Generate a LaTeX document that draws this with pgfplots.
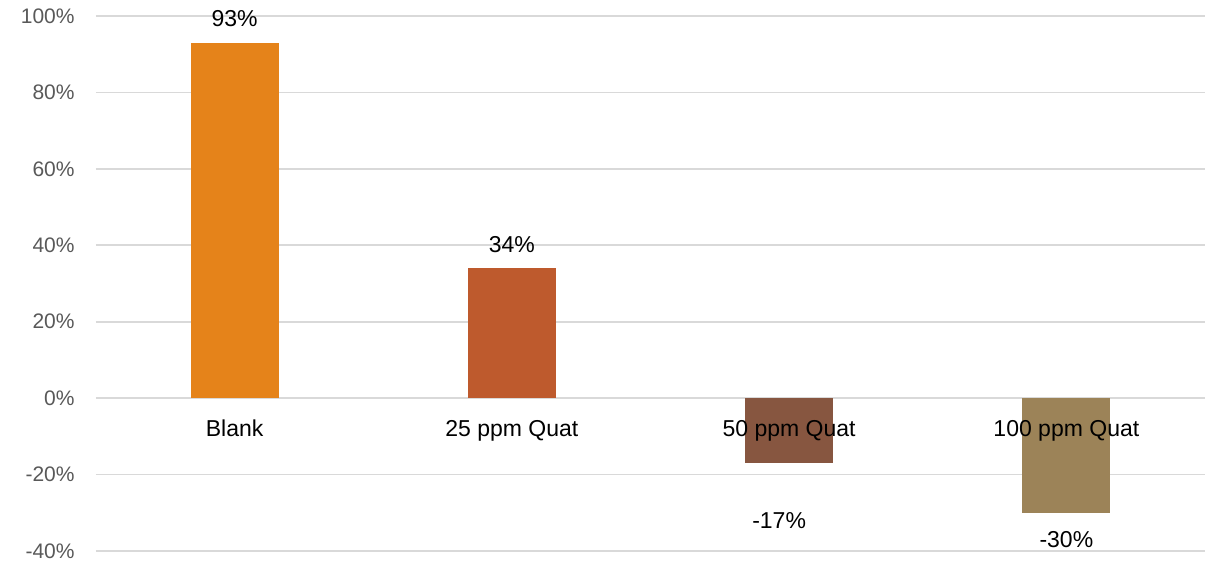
\documentclass[border=0pt]{standalone}
\usepackage{fontspec}
\setmainfont{Liberation Sans}
\usepackage{pgfplots}
\pgfplotsset{compat=1.18}

\definecolor{barBlank}{HTML}{E5831A}
\definecolor{barQ25}{HTML}{BE5A2D}
\definecolor{barQ50}{HTML}{875640}
\definecolor{barQ100}{HTML}{9C8358}
\definecolor{gridgray}{HTML}{D9D9D9}
\definecolor{ticktext}{HTML}{595959}

\begin{document}
\begin{tikzpicture}
\begin{axis}[
  name=main,
  axis on top,
  scale only axis,
  width=554.5pt, height=267.5pt,
  xmin=-0.5, xmax=3.5,
  ymin=-40, ymax=100,
  ytick={-40,-20,0,20,40,60,80,100},
  xtick={0,1,2,3},
  xticklabels={Blank,25 ppm Quat,50 ppm Quat,100 ppm Quat},
  axis line style={draw=none},
  major tick length=0pt,
  /pgf/number format/assume math mode=true,
  yticklabel={\pgfmathprintnumber{\tick}\%},
  yticklabel style={font=\fontsize{10.5}{12}\selectfont, text=ticktext, anchor=east, inner sep=0pt, xshift=-10.5pt},
  xticklabel style={font=\fontsize{11.5}{13}\selectfont, text=black, anchor=base, inner sep=0pt, yshift=57.5pt},
  ybar, bar width=44pt, bar shift=0pt,
  point meta=y,
  nodes near coords={\pgfmathprintnumber[fixed,precision=0]{\pgfplotspointmeta}\%},
  nodes near coords style={font=\fontsize{11.5}{13}\selectfont, text=black, inner sep=0pt},
  clip=false,
]
% horizontal grid, drawn first so the bars cover it
\pgfplotsinvokeforeach{-40,-20,0,20,40,60,80,100}{
  \draw[gridgray, line width=0.9pt] (axis cs:-0.5,#1) -- (axis cs:3.5,#1);
}
\addplot[fill=barBlank, draw=none,
  every node near coord/.append style={anchor=base, yshift=8pt}]
  coordinates {(0,93)};
\addplot[fill=barQ25, draw=none,
  every node near coord/.append style={anchor=base, yshift=8pt}]
  coordinates {(1,34)};
\addplot[fill=barQ50, draw=none,
  every node near coord/.append style={anchor=base, yshift=-32.5pt, xshift=-5pt}]
  coordinates {(2,-17)};
\addplot[fill=barQ100, draw=none,
  every node near coord/.append style={anchor=base, yshift=-17.5pt}]
  coordinates {(3,-30)};
\end{axis}
\pgfresetboundingbox
\path (main.south west) ++(-48pt,-9pt) rectangle ++(611.5pt,284.5pt);
\end{tikzpicture}
\end{document}
